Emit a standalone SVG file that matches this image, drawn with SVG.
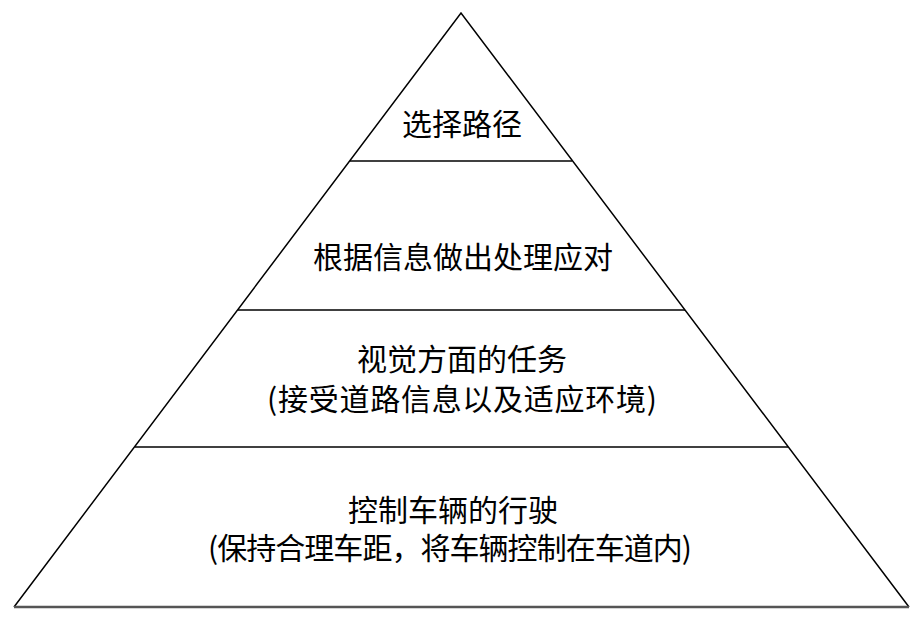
<svg xmlns="http://www.w3.org/2000/svg" width="923" height="621" viewBox="0 0 923 621">
<style>
.edge{stroke:#000;stroke-width:1.5;fill:none}
.base{stroke:#555;stroke-width:2.5;fill:none}
text{font-family:"Microsoft YaHei","Noto Sans CJK SC","Noto Sans",sans-serif;font-size:30px;fill:#000;text-anchor:middle}
</style>
<rect width="923" height="621" fill="#fff"/>
<g id="connectors">
<path class="edge" d="M14,607 L461,13 L909,607"/>
<line class="base" x1="14" y1="607" x2="909" y2="607"/>
<line class="edge" x1="350" y1="161" x2="572" y2="161"/>
<line class="edge" x1="238" y1="310" x2="685" y2="310"/>
<line class="edge" x1="135" y1="447" x2="788" y2="447"/>
</g>
<g id="level1"><text x="462" y="135">选择路径</text></g>
<g id="level2"><text x="463" y="268">根据信息做出处理应对</text></g>
<g id="level3"><text x="462" y="370">视觉方面的任务</text><text x="462" y="410" textLength="390" lengthAdjust="spacing">(接受道路信息以及适应环境)</text></g>
<g id="level4"><text x="453" y="521">控制车辆的行驶</text><text x="450" y="559" textLength="484" lengthAdjust="spacing">(保持合理车距，将车辆控制在车道内)</text></g>
</svg>
